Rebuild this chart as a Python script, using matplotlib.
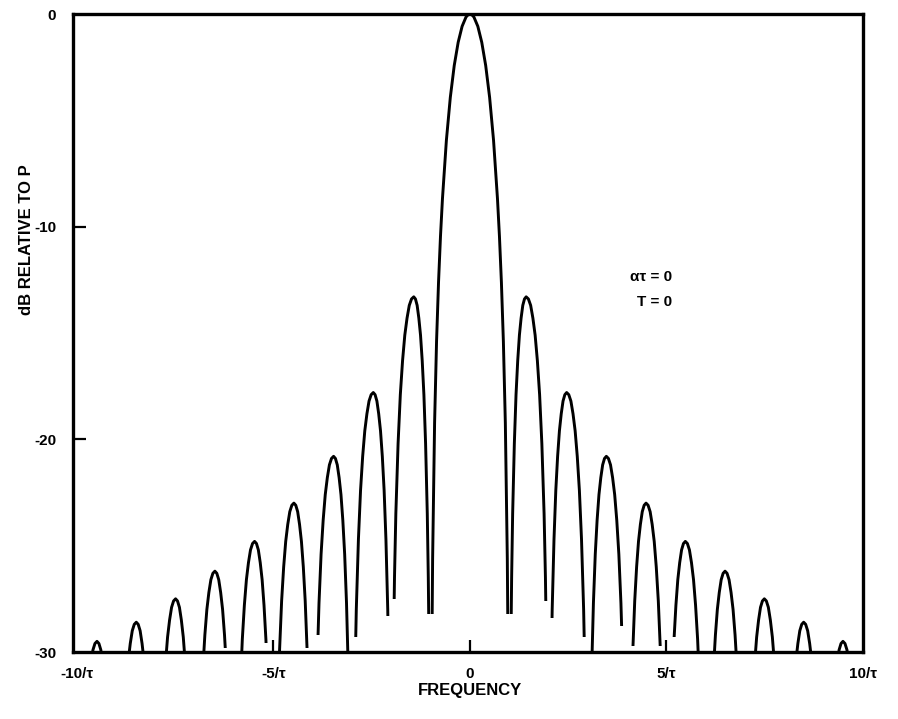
import numpy as np
import matplotlib.pyplot as plt
from matplotlib.patches import Polygon

plt.rcParams['font.family'] = ['Liberation Sans', 'DejaVu Sans']

# main lobe (right half, mirrored for the left): frequency in 1/tau, level in dB
main_f = [0.0, 0.05, 0.1, 0.2, 0.3, 0.4, 0.5, 0.6, 0.7, 0.75, 0.8, 0.85, 0.9, 0.95, 0.97]
main_db = [0.0, -0.04, -0.14, -0.58, -1.33, -2.42, -3.92, -5.94, -8.69, -10.45,
           -12.62, -15.39, -19.23, -25.6, -30.2]
main_floor = -28.2

# sidelobes n = 1..9 (lobe between nulls n and n+1)
lobe_peak_f = [1.43, 2.46, 3.47, 4.48, 5.48, 6.49, 7.49, 8.49, 9.49]
lobe_peak_db = [-13.3, -17.8, -20.8, -23.0, -24.8, -26.2, -27.5, -28.6, -29.5]

# where each drawn lobe stops near its nulls (inner side, outer side)
right_floor_in = [-28.2, -28.4, -30.0, -29.7, -29.3, -30.0, -30.0, -30.0, -30.0]
right_floor_out = [-27.6, -29.3, -28.8, -29.7, -30.0, -30.0, -30.0, -30.0, -30.0]
left_floor_in = [-28.2, -28.3, -30.0, -29.8, -29.6, -29.8, -30.0, -30.0, -30.0]
left_floor_out = [-27.5, -29.3, -29.2, -30.0, -30.0, -30.0, -30.0, -30.0, -30.0]

# common sidelobe profile: distance from the null (fraction of half lobe) and drop below peak
profile_d = [0.01, 0.02, 0.03, 0.05, 0.07, 0.1, 0.15, 0.2, 0.25, 0.3, 0.35, 0.4, 0.45, 0.5]
profile_drop = [30.1, 24.0, 20.5, 16.1, 13.2, 10.2, 6.9, 4.6, 3.0, 1.8, 1.0, 0.4, 0.1, 0.0]

tick_pos = [-10, -5, 0, 5, 10]
tick_lab = ['-10/\u03c4', '-5/\u03c4', '0', '5/\u03c4', '10/\u03c4']
ytick_pos = [-30, -20, -10, 0]
ytick_lab = ['-30', '-20', '-10', '0']

fig = plt.figure(figsize=(8.98, 7.19), dpi=100)
ax = fig.add_axes([73 / 898, 1 - 652 / 719, 790 / 898, 638 / 719])
ax.set_xlim(-10.1, 10.0)
ax.set_ylim(-30, 0)

LW = 2.1


def clipped_line(f, db, lo, hi, c, floor_lo, floor_hi):
    line, = ax.plot(f, db, color='black', lw=LW, solid_capstyle='butt')
    clip = Polygon([(lo - 0.3, floor_lo), (c, floor_lo), (c, floor_hi), (hi + 0.3, floor_hi),
                    (hi + 0.3, 1), (lo - 0.3, 1)], closed=True, transform=ax.transData)
    line.set_clip_path(clip)


# main lobe
mf = np.array(main_f)
md = np.array(main_db)
f_main = np.concatenate([-mf[::-1], mf[1:]])
db_main = np.concatenate([md[::-1], md[1:]])
clipped_line(f_main, db_main, -1, 1, 0, main_floor, main_floor)

d = np.array(profile_d)
drop = np.array(profile_drop)
for i in range(9):
    n = i + 1
    c = lobe_peak_f[i]
    up_f = n + d / 0.5 * (c - n)
    down_f = (n + 1) - d[::-1] / 0.5 * (n + 1 - c)
    f = np.concatenate([up_f, down_f[1:]])
    db = lobe_peak_db[i] - np.concatenate([drop, drop[::-1][1:]])
    # right side
    clipped_line(f, db, n, n + 1, c, right_floor_in[i], right_floor_out[i])
    # mirrored left side
    clipped_line(-f, db, -(n + 1), -n, -c, left_floor_out[i], left_floor_in[i])

for s in ax.spines.values():
    s.set_linewidth(2.4)

ax.set_xticks(tick_pos)
ax.set_xticklabels(tick_lab, fontsize=11, fontweight='bold')
ax.set_yticks(ytick_pos)
ax.set_yticklabels(ytick_lab, fontsize=11, fontweight='bold')
ax.tick_params(axis='x', direction='in', length=9, width=1.6, pad=11)
ax.tick_params(axis='y', direction='in', length=9, width=1.6, pad=12)
# no tick marks at the frame corners
for t in (ax.xaxis.get_major_ticks()[0], ax.xaxis.get_major_ticks()[-1],
          ax.yaxis.get_major_ticks()[0], ax.yaxis.get_major_ticks()[-1]):
    t.tick1line.set_visible(False)

fig.text(470 / 898, 1 - 690 / 719, 'FREQUENCY', ha='center', va='center',
         fontsize=12, fontweight='bold')
fig.text(27 / 898, 1 - 240 / 719, 'dB RELATIVE TO P', rotation=90, ha='center',
         va='center', fontsize=12, fontweight='bold')

ax.text(0.758, 0.588, '\u03b1\u03c4 = 0', transform=ax.transAxes, ha='right',
        va='center', fontsize=11, fontweight='bold')
ax.text(0.758, 0.549, 'T = 0', transform=ax.transAxes, ha='right',
        va='center', fontsize=11, fontweight='bold')

fig.savefig('out.png', dpi=100)
